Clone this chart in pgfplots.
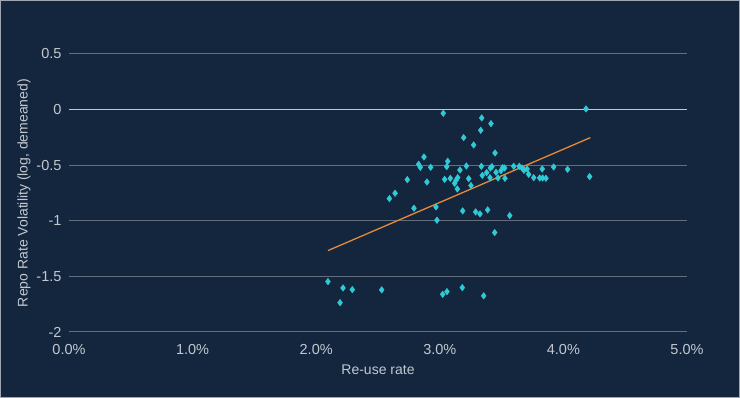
\documentclass[border=0pt]{standalone}
\usepackage{pgfplots}
\pgfplotsset{compat=1.18}
\usepackage{fontspec}
\setmainfont{Liberation Sans}
\definecolor{bg}{HTML}{13263E}
\definecolor{pt}{HTML}{2FCAD6}
\definecolor{ln}{HTML}{E8893A}
\definecolor{txt}{HTML}{C3C8CF}
\definecolor{grd}{HTML}{636D7C}
\definecolor{zero}{HTML}{C2C7CE}
\begin{document}
\begin{tikzpicture}[x=1pt,y=1pt]
\fill[bg] (0,0) rectangle (740,398);
\draw[grd!60!white, line width=0.8pt] (0.4,0.4) rectangle (739.6,397.6);
\begin{axis}[
  at={(69pt,66pt)}, anchor=south west,
  scale only axis, width=618pt, height=278pt,
  xmin=0, xmax=5, ymin=-2, ymax=0.5,
  axis line style={draw=none},
  major tick length=0pt,
  xtick={0,1,2,3,4,5},
  xticklabels={0.0\%,1.0\%,2.0\%,3.0\%,4.0\%,5.0\%},
  ytick={-2,-1.5,-1,-0.5,0,0.5},
  yticklabels={-2,-1.5,-1,-0.5,0,0.5},
  ymajorgrids,
  grid style={grd, line width=1pt},
  tick label style={font=\fontsize{14.5}{16}\selectfont, text=txt},
  xticklabel style={yshift=-9pt},
  yticklabel style={xshift=-4pt},
  label style={font=\fontsize{14}{16}\selectfont, text=txt},
  xlabel={Re-use rate},
  ylabel={Repo Rate Volatility (log, demeaned)},
  xlabel style={yshift=-3pt},
  ylabel style={yshift=-1pt},
  clip=false,
]
\addplot[draw=zero, line width=1.3pt, forget plot] coordinates {(0,0) (5,0)};
\addplot[only marks, mark=diamond*, mark size=3.3pt, color=pt] coordinates {
(3.028,-0.033) (4.183,0.006) (3.339,-0.075) (3.414,-0.126) (3.331,-0.186)
(3.193,-0.252) (3.274,-0.318) (3.447,-0.390) (2.872,-0.426) (3.064,-0.465)
(2.829,-0.492) (2.842,-0.519) (2.926,-0.519) (3.056,-0.513) (3.215,-0.507)
(3.163,-0.543) (3.336,-0.510) (3.379,-0.567) (3.344,-0.591) (3.409,-0.525)
(3.422,-0.513) (3.406,-0.612) (3.455,-0.564) (3.471,-0.615) (3.495,-0.549)
(3.509,-0.522) (3.525,-0.525) (3.527,-0.618) (3.598,-0.510) (3.643,-0.510)
(3.665,-0.525) (3.681,-0.546) (3.706,-0.534) (3.719,-0.582) (3.760,-0.612)
(3.808,-0.615) (3.832,-0.615) (3.859,-0.618) (3.829,-0.534) (3.921,-0.516)
(4.034,-0.537) (4.212,-0.603) (2.737,-0.630) (3.039,-0.627) (3.085,-0.618)
(2.896,-0.651) (3.145,-0.612) (3.131,-0.636) (3.120,-0.663) (3.142,-0.714)
(3.234,-0.621) (3.252,-0.683) (2.638,-0.752) (2.592,-0.800) (2.791,-0.887)
(2.969,-0.875) (2.977,-0.995) (3.185,-0.911) (3.290,-0.920) (3.325,-0.938)
(3.387,-0.902) (3.566,-0.953) (3.444,-1.106)
(2.095,-1.547) (2.217,-1.604) (2.292,-1.619) (2.530,-1.621) (3.023,-1.661)
(3.058,-1.637) (3.182,-1.601) (3.355,-1.675) (2.193,-1.736)
};
\addplot[ln, line width=1.3pt] coordinates {(2.095,-1.268) (4.218,-0.252)};
\end{axis}
\end{tikzpicture}
\end{document}
